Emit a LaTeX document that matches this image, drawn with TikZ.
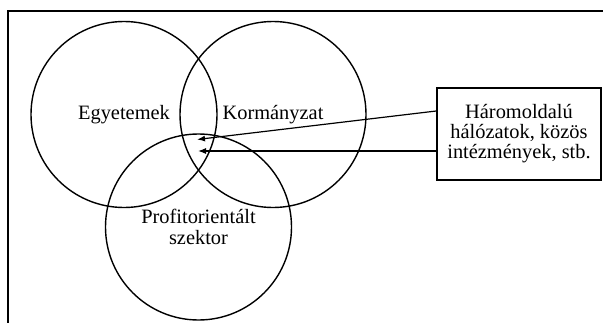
\documentclass[tikz,border=0pt]{standalone}
\usepackage{fontspec}
\setmainfont{Liberation Serif}
\usetikzlibrary{arrows.meta}
\begin{document}
\begin{tikzpicture}[x=1pt,y=-1pt,
  setcircle/.style={draw, circle, line width=1.4pt, minimum size=186pt, inner sep=0pt,
    font=\fontsize{20.4}{21.5}\selectfont, align=center},
  notebox/.style={draw, line width=1.6pt, minimum width=164pt, minimum height=92pt,
    inner sep=0pt, align=center, font=\fontsize{20.4}{20}\selectfont},
  pointer/.style={line width=1.2pt, -{Latex[length=8pt,width=6pt]}},
  frameline/.style={line width=2pt}]
\useasboundingbox (0,0) rectangle (603,322);

% open frame along the left and top edges
\draw[frameline] (8,323) -- (8,11) -- (604,11);

% the three overlapping sets
\node[setcircle] (uni) at (124,114.5) {Egyetemek};
\node[setcircle] (gov) at (273,114.5) {Kormányzat};
\node[setcircle] (ind) at (198.5,227) {Profitorientált\\szektor};

% explanatory box
\node[notebox] (note) at (519,134) {Háromoldalú\\hálózatok, közös\\intézmények, stb.};

% arrow targets inside the common intersection
\coordinate (t1) at (197,139.5);
\coordinate (t2) at (198,151);
\draw[pointer] ([yshift=23pt]note.west) -- (t1);
\draw[pointer] ([yshift=-17pt]note.west) -- (t2);
\end{tikzpicture}
\end{document}
